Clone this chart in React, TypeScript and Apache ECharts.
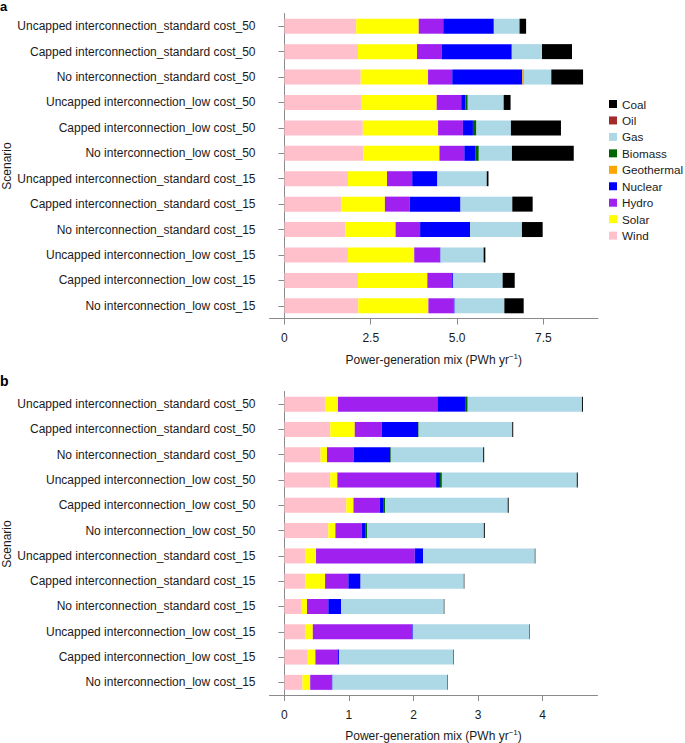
import React, { useEffect, useRef } from "react";
import * as echarts from "echarts";

const categories = [
  "Uncapped interconnection_standard cost_50",
  "Capped interconnection_standard cost_50",
  "No interconnection_standard cost_50",
  "Uncapped interconnection_low cost_50",
  "Capped interconnection_low cost_50",
  "No interconnection_low cost_50",
  "Uncapped interconnection_standard cost_15",
  "Capped interconnection_standard cost_15",
  "No interconnection_standard cost_15",
  "Uncapped interconnection_low cost_15",
  "Capped interconnection_low cost_15",
  "No interconnection_low cost_15",
];

const fuels = ["Wind", "Solar", "Hydro", "Nuclear", "Geothermal", "Biomass", "Gas", "Oil", "Coal"];
const legendOrder = ["Coal", "Oil", "Gas", "Biomass", "Geothermal", "Nuclear", "Hydro", "Solar", "Wind"];
const fuelColors = ["#ffc0cb", "#ffff00", "#a020f0", "#0000ff", "#ffa500", "#006400", "#add8e6", "#a52a2a", "#000000"];

// Panel a (PWh/yr)
const windA = [2.08, 2.13, 2.21, 2.24, 2.27, 2.28, 1.84, 1.64, 1.76, 1.84, 2.13, 2.14];
const solarA = [1.81, 1.71, 1.95, 2.17, 2.18, 2.21, 1.13, 1.27, 1.46, 1.92, 2.01, 2.03];
const hydroA = [0.71, 0.72, 0.7, 0.71, 0.72, 0.72, 0.73, 0.72, 0.71, 0.73, 0.72, 0.73];
const nuclearA = [1.46, 2.01, 2.03, 0.12, 0.29, 0.33, 0.73, 1.47, 1.45, 0.03, 0.03, 0.03];
const geothermalA = [0, 0, 0.03, 0, 0, 0, 0, 0, 0, 0, 0, 0];
const biomassA = [0.01, 0.02, 0.01, 0.07, 0.1, 0.09, 0, 0, 0, 0, 0, 0];
const gasA = [0.74, 0.87, 0.8, 1.04, 1.0, 0.96, 1.43, 1.5, 1.5, 1.25, 1.43, 1.44];
const oilA = [0, 0, 0, 0, 0, 0, 0, 0, 0, 0, 0, 0];
const coalA = [0.19, 0.87, 0.92, 0.2, 1.45, 1.79, 0.05, 0.59, 0.6, 0.05, 0.35, 0.56];

// Panel b (PWh/yr)
const windB = [0.64, 0.71, 0.56, 0.71, 0.96, 0.68, 0.33, 0.32, 0.27, 0.33, 0.36, 0.28];
const solarB = [0.19, 0.38, 0.1, 0.11, 0.11, 0.11, 0.16, 0.31, 0.08, 0.11, 0.12, 0.12];
const hydroB = [1.54, 0.42, 0.41, 1.53, 0.41, 0.41, 1.53, 0.36, 0.33, 1.54, 0.35, 0.33];
const nuclearB = [0.44, 0.56, 0.57, 0.06, 0.06, 0.06, 0.13, 0.19, 0.2, 0.01, 0.015, 0.015];
const geothermalB = [0, 0, 0, 0, 0, 0, 0, 0, 0, 0, 0, 0];
const biomassB = [0.03, 0.01, 0.01, 0.03, 0.02, 0.02, 0, 0, 0, 0, 0, 0];
const gasB = [1.77, 1.45, 1.43, 2.09, 1.9, 1.81, 1.73, 1.6, 1.59, 1.8, 1.77, 1.775];
const oilB = [0, 0, 0, 0, 0, 0, 0, 0, 0, 0, 0, 0];
const coalB = [0.015, 0.015, 0.015, 0.015, 0.015, 0.015, 0.008, 0.008, 0.008, 0.008, 0.008, 0.008];

const ticksA = [0, 2.5, 5, 7.5];
const tickLabelsA = ["0", "2.5", "5.0", "7.5"];
const ticksB = [0, 1, 2, 3, 4];
const tickLabelsB = ["0", "1", "2", "3", "4"];

const seriesA = [windA, solarA, hydroA, nuclearA, geothermalA, biomassA, gasA, oilA, coalA];
const seriesB = [windB, solarB, hydroB, nuclearB, geothermalB, biomassB, gasB, oilB, coalB];

const FONT = "Liberation Sans, Arial, Helvetica, sans-serif";
const TEXT = "#1a1a1a";
const AXIS = "#8a8a8a";

function xAxisCfg(gridIndex: number, min: number, max: number, ticks: number[], labels: string[]) {
  return {
    type: "value",
    gridIndex,
    min,
    max,
    name: "Power-generation mix (PWh yr{sup|−1})",
    nameLocation: "middle",
    nameGap: 33.5,
    nameTextStyle: {
      fontFamily: FONT,
      fontSize: 12,
      color: TEXT,
      rich: { sup: { fontFamily: FONT, fontSize: 8, color: TEXT, padding: [0, 0, 7, 0] } },
    },
    splitLine: { show: false },
    axisLine: { show: true, onZero: false, lineStyle: { color: AXIS, width: 1 } },
    axisTick: { show: true, length: 6, customValues: ticks, lineStyle: { color: AXIS } },
    axisLabel: {
      customValues: ticks,
      margin: 13.5,
      fontFamily: FONT,
      fontSize: 12,
      color: TEXT,
      formatter: (v: number) => {
        const i = ticks.findIndex((t) => Math.abs(t - v) < 1e-9);
        return i >= 0 ? labels[i] : "";
      },
    },
  };
}

function yAxisCfg(gridIndex: number) {
  return {
    type: "category",
    gridIndex,
    inverse: true,
    data: categories,
    axisLine: { show: true, lineStyle: { color: AXIS, width: 1 } },
    axisTick: { show: true, length: 6, alignWithLabel: true, lineStyle: { color: AXIS } },
    axisLabel: { margin: 14, fontFamily: FONT, fontSize: 12, color: TEXT },
    splitLine: { show: false },
  };
}

export default function App() {
  const ref = useRef<HTMLDivElement>(null);
  useEffect(() => {
    if (!ref.current) return;
    const chart = echarts.init(ref.current, undefined, { renderer: "svg" });
    const series: any[] = [];
    fuels.forEach((f, i) => {
      series.push({
        name: f,
        type: "bar",
        stack: "a",
        xAxisIndex: 0,
        yAxisIndex: 0,
        barWidth: 15,
        itemStyle: { color: fuelColors[i] },
        data: seriesA[i],
      });
    });
    fuels.forEach((f, i) => {
      series.push({
        name: f,
        type: "bar",
        stack: "b",
        xAxisIndex: 1,
        yAxisIndex: 1,
        barWidth: 15,
        itemStyle: { color: fuelColors[i] },
        data: seriesB[i],
      });
    });
    chart.setOption({
      animation: false,
      backgroundColor: "#ffffff",
      grid: [
        { left: 269.5, top: 13.5, width: 328.5, height: 305, containLabel: false },
        { left: 269.5, top: 391.5, width: 328, height: 305, containLabel: false },
      ],
      xAxis: [xAxisCfg(0, -0.4325, 9.0825, ticksA, tickLabelsA), xAxisCfg(1, -0.231, 4.851, ticksB, tickLabelsB)],
      yAxis: [yAxisCfg(0), yAxisCfg(1)],
      legend: {
        data: legendOrder,
        orient: "vertical",
        left: 609,
        top: 98,
        padding: 0,
        itemWidth: 8,
        itemHeight: 8,
        itemGap: 4.45,
        icon: "rect",
        selectedMode: false,
        textStyle: { fontFamily: FONT, fontSize: 11.7, color: TEXT },
      },
      graphic: [
        {
          type: "text",
          x: 0,
          y: 0,
          style: { text: "a", fontFamily: FONT, fontSize: 13, fontWeight: "bold", fill: "#000", align: "left", verticalAlign: "top" },
        },
        {
          type: "text",
          x: 0,
          y: 388,
          style: { text: "b", fontFamily: FONT, fontSize: 14, fontWeight: "bold", fill: "#000", align: "left", verticalAlign: "bottom" },
        },
        {
          type: "text",
          x: 7,
          y: 166,
          rotation: Math.PI / 2,
          style: { text: "Scenario", fontFamily: FONT, fontSize: 12, fill: TEXT, align: "center", verticalAlign: "middle" },
        },
        {
          type: "text",
          x: 7,
          y: 544,
          rotation: Math.PI / 2,
          style: { text: "Scenario", fontFamily: FONT, fontSize: 12, fill: TEXT, align: "center", verticalAlign: "middle" },
        },
      ],
      series,
    });
    return () => chart.dispose();
  }, []);
  return <div ref={ref} style={{ position: "absolute", left: 0, top: 0, width: 685, height: 743 }} />;
}
